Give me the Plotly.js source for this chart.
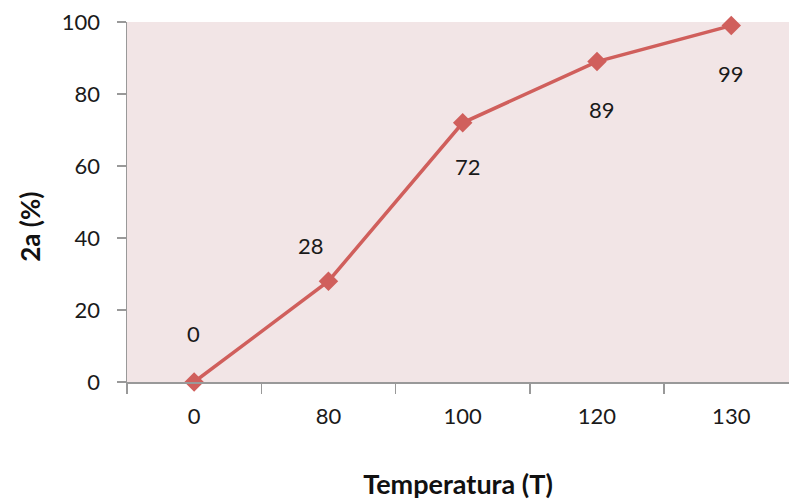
<!DOCTYPE html>
<html><head><meta charset="utf-8">
<script src="https://cdn.plot.ly/plotly-3.0.1.min.js"></script>
<style>html,body{margin:0;padding:0;background:#fff;}#c{width:789px;height:500px;}</style>
</head><body><div id="c"></div>
<script>
const categories = ['0', '80', '100', '120', '130'];
const values = [0, 28, 72, 89, 99];
const labelText = ['0', '28', '72', '89', '99'];
const labelDx = [-1, -17, 5, 5, 0];
const labelDy = [49, 36, -44, -48, -48];

const font = 'Lato, "Open Sans", sans-serif';
const annotations = categories.map((c, i) => ({
  x: i, y: values[i], xref: 'x', yref: 'y', text: labelText[i],
  showarrow: false, yshift: labelDy[i], xshift: labelDx[i],
  font: {family: font, size: 22, color: '#1a1a1a'}
}));
annotations.push({
  text: '<b>2a (%)</b>', xref: 'paper', yref: 'paper', x: -0.1457, y: 0.43,
  xanchor: 'center', yanchor: 'middle', textangle: -90, showarrow: false,
  font: {family: font, size: 26, color: '#111'}
});

Plotly.newPlot('c', [{
  x: categories, y: values, type: 'scatter', mode: 'lines+markers',
  line: {color: '#d05f5c', width: 3.5},
  marker: {symbol: 'diamond', size: 15, color: '#d05f5c'},
  cliponaxis: false, hoverinfo: 'none'
}], {
  width: 789, height: 500,
  margin: {l: 126.5, r: 0, t: 22, b: 118, pad: 0},
  paper_bgcolor: '#ffffff', plot_bgcolor: '#f2e5e6',
  showlegend: false,
  font: {family: font, size: 22, color: '#1a1a1a'},
  xaxis: {
    type: 'category', range: [-0.5, 4.43], tickson: 'boundaries',
    ticks: 'outside', ticklen: 10, tickcolor: '#999', tickwidth: 1.5,
    showline: true, linecolor: '#999', linewidth: 1.5, showgrid: false, zeroline: false,
    ticklabelstandoff: 14,
    tickfont: {family: font, size: 22, color: '#1a1a1a'},
    title: {text: '<b>Temperatura (T)</b>', font: {family: font, size: 27, color: '#111'}, standoff: 50},
    automargin: false, fixedrange: true
  },
  yaxis: {
    range: [0, 100], tickvals: [0, 20, 40, 60, 80, 100],
    ticks: 'outside', ticklen: 9, tickcolor: '#999', tickwidth: 1.5,
    showline: true, linecolor: '#999', linewidth: 1.5, showgrid: false, zeroline: false,
    ticklabelstandoff: 12,
    tickfont: {family: font, size: 22, color: '#1a1a1a'},
    automargin: false, fixedrange: true
  },
  annotations: annotations
}, {displayModeBar: false, staticPlot: true});
</script></body></html>
